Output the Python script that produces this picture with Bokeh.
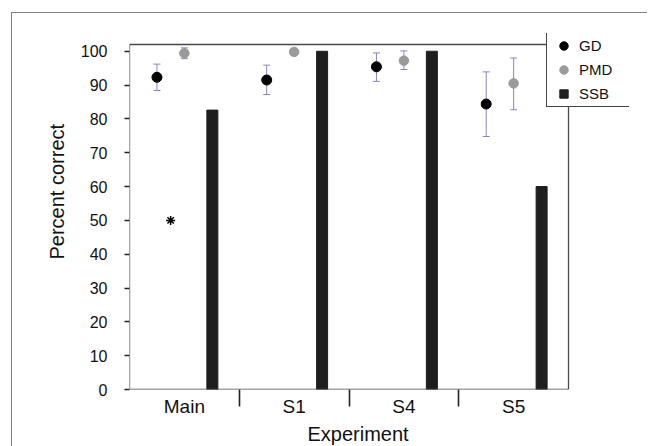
from bokeh.plotting import figure
from bokeh.models import (ColumnDataSource, Range1d, FixedTicker, Whisker, TeeHead,
                          Legend, LegendItem, Title, BoxAnnotation, CDSView, IndexFilter)
from bokeh.transform import dodge
from bokeh.embed import file_html
from bokeh.resources import INLINE

# ---- data ----
categories = ["Main", "S1", "S4", "S5"]
gd_mean = [92.3, 91.5, 95.4, 84.4]
gd_upper = [96.2, 95.9, 99.5, 93.9]
gd_lower = [88.4, 87.2, 91.1, 74.8]
pmd_mean = [99.4, 99.8, 97.2, 90.5]
pmd_upper = [101.0, 100.2, 100.1, 98.0]
pmd_lower = [97.8, 99.4, 94.6, 82.7]
ssb_values = [82.6, 100.0, 100.0, 60.0]
sig_category = ["Main"]
sig_value = [50.0]
y_ticks = [0, 10, 20, 30, 40, 50, 60, 70, 80, 90, 100]
y_axis_max = 102

FONT = "Liberation Sans"
ERR = "#8884c4"
BAR = "#1e1e1e"

centers = [i + 0.5 for i in range(len(categories))]
src = ColumnDataSource(dict(
    x=centers, cat=categories,
    gd=gd_mean, gd_up=gd_upper, gd_lo=gd_lower,
    pmd=pmd_mean, pmd_up=pmd_upper, pmd_lo=pmd_lower,
    ssb=ssb_values,
))
sig_src = ColumnDataSource(dict(
    x=[categories.index(c) + 0.5 for c in sig_category], y=sig_value))

# frame is widened to the right / top so the legend (which overhangs the
# plot box) is not clipped; the visible plot box is drawn as an annotation
n = len(categories)
p = figure(width=636, height=434, output_backend="svg", toolbar_location=None,
           x_range=Range1d(0, n * 500 / 439), y_range=Range1d(0, 105.25),
           min_border_left=117, min_border_right=19, min_border_top=20,
           min_border_bottom=58)
p.margin = (12, 0, 0, 11)
p.styles = {"border-left": "1px solid #808080", "border-top": "1px solid #808080"}
p.xgrid.visible = False
p.ygrid.visible = False
p.outline_line_color = None

p.add_layout(BoxAnnotation(left=0, right=n, bottom=0, top=y_axis_max,
                           fill_alpha=0, fill_color=None,
                           line_color="#4a4a4a", line_alpha=1.0, line_width=1.3))

# bars
p.vbar(x=dodge("x", 0.255), top="ssb", width=0.1, bottom=0, source=src,
       fill_color=BAR, line_color=BAR)

# error bars
for field, off in (("gd", -0.25), ("pmd", 0.0)):
    w = Whisker(source=src, base=dodge("x", off), upper=field + "_up", lower=field + "_lo",
                line_color=ERR, line_width=1,
                upper_head=TeeHead(size=7, line_color=ERR, line_width=1),
                lower_head=TeeHead(size=7, line_color=ERR, line_width=1))
    p.add_layout(w)

r_gd = p.scatter(x=dodge("x", -0.25), y="gd", source=src, size=10,
                 fill_color="black", line_color="black")
r_pmd = p.scatter(x="x", y="pmd", source=src, size=9.5,
                  fill_color="#9a9a9a", line_color="#9a9a9a")
p.scatter(x=dodge("x", -0.125), y="y", source=sig_src, marker="asterisk", size=9,
          line_color="black", line_width=1.5)
# legend swatch for the bars: a small square hidden inside the first bar
r_ssb = p.scatter(x=dodge("x", 0.255), y=dodge("ssb", -5), source=src,
                  view=CDSView(filter=IndexFilter([0])), size=6,
                  marker="square", fill_color=BAR, line_color=BAR)

legend = Legend(items=[LegendItem(label="GD", renderers=[r_gd]),
                       LegendItem(label="PMD", renderers=[r_pmd]),
                       LegendItem(label="SSB", renderers=[r_ssb])],
                location=(417, 282), padding=2, spacing=3, margin=0,
                glyph_height=21, glyph_width=29, label_standoff=1,
                label_width=48, label_height=21,
                label_text_font=FONT, label_text_font_size="15px",
                label_text_color="#111111",
                border_line_color="#444444", border_line_alpha=1.0, border_line_width=1.2,
                background_fill_color="white", background_fill_alpha=1.0)
p.add_layout(legend)

# x axis
xa = p.xaxis[0]
xa.ticker = FixedTicker(ticks=centers, minor_ticks=[i for i in range(1, n)])
xa.major_label_overrides = {c: lab for c, lab in zip(centers, categories)}
xa.axis_line_color = None
xa.major_tick_line_color = None
xa.major_tick_out = 0
xa.major_tick_in = 0
xa.minor_tick_out = 17
xa.minor_tick_in = 0
xa.minor_tick_line_color = "#222222"
xa.minor_tick_line_width = 1.6
xa.major_label_standoff = -11
xa.major_label_text_font = FONT
xa.major_label_text_font_size = "19px"
xa.major_label_text_color = "#111111"

# y axis
ya = p.yaxis[0]
ya.ticker = FixedTicker(ticks=y_ticks)
ya.axis_line_color = None
ya.major_tick_out = 5
ya.major_tick_in = 0
ya.major_tick_line_color = "#222222"
ya.major_tick_line_width = 1.6
ya.minor_tick_line_color = None
ya.major_label_standoff = 17
ya.major_label_text_font = FONT
ya.major_label_text_font_size = "16px"
ya.major_label_text_color = "#111111"

# axis titles
p.add_layout(Title(text="Experiment", align="left", offset=178, standoff=2,
                   text_font=FONT, text_font_size="20px", text_font_style="normal",
                   text_color="#111111"), "below")
p.add_layout(Title(text="Percent correct", align="left", offset=130, standoff=19,
                   text_font=FONT, text_font_size="20px", text_font_style="normal",
                   text_color="#111111"), "left")

open("out.html", "w").write(file_html(p, INLINE))
